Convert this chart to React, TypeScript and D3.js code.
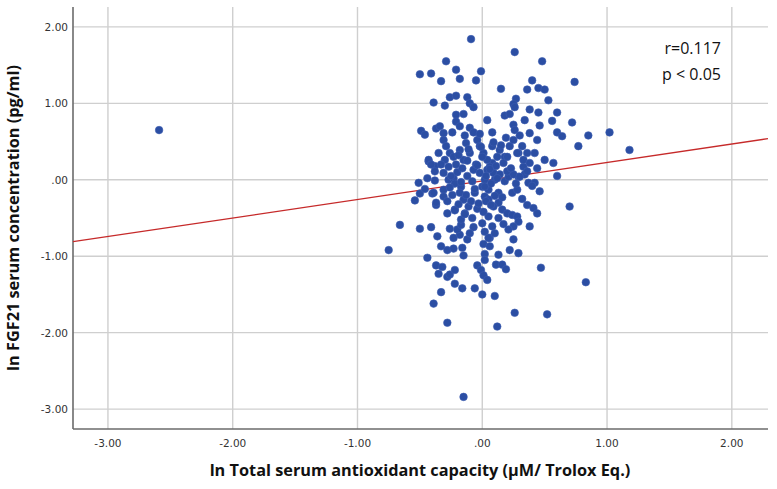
import React from "react";
import * as d3 from "d3";

const xTicks = [-3, -2, -1, 0, 1, 2];
const yTicks = [-3, -2, -1, 0, 1, 2];
const xDomain = [-3.28, 2.29];
const yDomain = [-3.26, 2.26];
const fitSlope = 0.242;
const fitIntercept = -0.016;
const annotation = ["r=0.117", "p < 0.05"];
const xTitle = "ln Total serum antioxidant capacity (\u00b5M/ Trolox Eq.)";
const yTitle = "ln FGF21 serum concentration (pg/ml)";

// ln TAC values
const tac = [
  -2.59, -0.09, 0.26, 0.48, -0.29, -0.5, -0.41, -0.21, -0.01, -0.33, -0.18, -0.05, 0.4, 0.74, 0.15, 0.36, 0.45, 0.5,
  -0.26, -0.21, -0.39, -0.3, -0.12, -0.1, -0.07, 0.27, 0.25, 0.26, 0.53, 0.38, 0.45, 0.6, 0.18, 0.22, -0.21, -0.15,
  0.04, 0.34, 0.56, 0.72, -0.49, -0.46, -0.37, -0.21, -0.18, -0.1, -0.07, 0.25, 0.26, 0.38, 0.46, 0.6, 0.64, 0.85,
  1.02, 0.77, 1.18, 0.44,
  0.6, 0.7, -0.66, -0.75, -0.5, -0.41, -0.54, -0.5, -0.51, -0.38, -0.4, -0.37, -0.28, -0.26, -0.36, -0.33, -0.28, -0.23,
  -0.44, -0.37, -0.32, -0.35, -0.28, -0.26, -0.22, -0.22, -0.33, -0.16, -0.39, -0.28, -0.06, 0.0, 0.1, -0.04, -0.01,
  0.01, 0.04, 0.02, 0.13, 0.11, 0.16, 0.19, 0.22, 0.29, 0.25, 0.06, 0.01, -0.16, -0.15, -0.12, -0.18, -0.2, -0.17,
  0.38, 0.47, 0.83, 0.26, 0.52, 0.12, -0.15,
  -0.43, -0.38, -0.39, -0.31, -0.31, -0.37, -0.27, -0.23, -0.17, -0.18, -0.15, -0.11, -0.22, -0.14, -0.17, -0.23,
  -0.08, 0.0, 0.02, 0.0, 0.02, 0.02, -0.06,
  0.08, 0.18, 0.29, 0.33, 0.42, 0.44, 0.5, 0.57, 0.02, 0.1, 0.18, 0.21, 0.29, 0.34, 0.37, 0.42, 0.46, 0.05, 0.13,
  0.24, 0.28, 0.05, 0.13, 0.16, 0.2, 0.24, 0.28, 0.29, 0.25, 0.21, 0.36, 0.41, 0.44, 0.05, 0.08, 0.1, 0.05, 0.06,
  -0.31, -0.29, -0.26, -0.3, -0.23, -0.18, -0.13, -0.1, -0.15, -0.21, -0.27, -0.31, -0.04, -0.02, 0.01, 0.04, 0.06,
  0.08, 0.12, 0.14, 0.17, 0.2, 0.22, 0.25, 0.28, 0.32, 0.33, 0.36, -0.43, -0.41, -0.38, -0.07, -0.02, 0.04, 0.09,
  0.14, 0.2, 0.25, 0.3, 0.36, -0.31, -0.34,
  -0.25, -0.2, -0.16, -0.12, -0.08, -0.05, 0.0, 0.03, 0.07, 0.11, 0.15, 0.19, -0.02, -0.14, -0.24, -0.35, -0.33,
  -0.22, -0.13, -0.09, -0.04, 0.01, 0.09, 0.13, 0.17, -0.28, -0.24, -0.19, -0.07, -0.1, 0.03, 0.32, 0.27, 0.23,
  0.38, 0.3, 0.08, -0.44, -0.46, 0.4,
  -0.19, -0.12, -0.04, 0.06, 0.12, -0.26, -0.17, -0.06, 0.02, 0.1, -0.22, -0.14, -0.03, 0.07, 0.16, -0.11, -0.01, 0.09,
];

// ln FGF21 values
const fgf21 = [
  0.65, 1.84, 1.67, 1.55, 1.55, 1.38, 1.39, 1.44, 1.42, 1.29, 1.32, 1.3, 1.3, 1.28, 1.19, 1.18, 1.2, 1.18,
  1.08, 1.1, 1.01, 0.97, 1.08, 1.0, 0.95, 1.06, 0.99, 0.95, 1.04, 0.92, 0.88, 0.88, 0.84, 0.86, 0.85, 0.86,
  0.78, 0.78, 0.77, 0.75, 0.64, 0.59, 0.67, 0.76, 0.7, 0.68, 0.62, 0.72, 0.65, 0.61, 0.71, 0.62, 0.57, 0.58,
  0.62, 0.44, 0.39, 0.52,
  0.05, -0.35, -0.59, -0.92, -0.64, -0.62, -0.27, -0.18, -0.04, -0.01, -0.18, -0.33, -0.44, -0.64, -0.74, -0.87, -0.92, -0.9,
  -1.02, -1.12, -1.14, -1.23, -1.27, -1.24, -1.18, -1.36, -1.47, -1.42, -1.62, -1.87, -1.42, -1.5, -1.52, -1.12, -1.18,
  -1.25, -1.31, -0.97, -0.98, -1.11, -1.11, -1.17, -0.92, -0.96, -0.78, -0.76, -0.84, -0.89, -0.99, -0.78, -0.72, -0.65, -0.59,
  -0.61, -1.15, -1.34, -1.74, -1.76, -1.92, -2.84,
  0.24, 0.18, -0.17, -0.13, -0.22, -0.3, 0.0, 0.02, -0.09, -0.17, -0.26, -0.35, -0.39, -0.44, -0.52, -0.76,
  -0.5, -0.09, -0.22, -0.57, -0.68, -1.05, -0.17,
  0.22, 0.3, 0.35, 0.17, 0.35, 0.15, 0.26, 0.22, 0.0, 0.0, -0.02, 0.04, 0.04, 0.07, -0.04, -0.04, -0.15, -0.13, -0.17,
  -0.17, -0.13, -0.26, -0.3, -0.39, -0.44, -0.46, -0.48, -0.55, -0.61, -0.65, -0.33, -0.37, -0.44, -0.48, -0.61, -0.7, -0.76, -0.87,
  0.52, 0.44, 0.35, 0.26, 0.3, 0.39, 0.48, 0.35, 0.26, 0.2, 0.17, 0.09, 0.52, 0.44, 0.35, 0.26, 0.17,
  0.44, 0.3, 0.39, 0.22, 0.3, 0.44, 0.52, 0.35, 0.44, 0.26, 0.35, 0.26, 0.2, 0.11, 0.13, 0.09, 0.13, 0.09,
  0.07, 0.11, 0.07, 0.04, 0.11, 0.61, 0.7,
  0.05, 0.1, 0.15, 0.05, -0.02, 0.2, 0.3, 0.05, -0.05, 0.18, 0.45, 0.55, 0.6, 0.58, 0.62, 0.35, 0.2,
  -0.05, -0.2, -0.28, -0.38, -0.42, -0.35, -0.5, -0.58, -0.28, -0.2, -0.32, -0.62, -0.7, -0.28, -0.25, -0.05, 0.15,
  0.22, 0.58, 0.62, 0.02, -0.12, -0.08,
  0.32, 0.25, 0.19, 0.14, 0.02, -0.1, -0.03, -0.12, -0.09, -0.21, -0.4, -0.45, -0.31, -0.33, -0.23, 0.4, 0.43, 0.49,
];

const W = 777;
const H = 489;
const left = 73;
const right = 768;
const top = 7;
const bottom = 429;

const fmt = (v: number) => (v === 0 ? ".00" : d3.format(".2f")(v).replace("\u2212", "-"));

export default function App() {
  const x = d3.scaleLinear().domain(xDomain).range([left, right]);
  const y = d3.scaleLinear().domain(yDomain).range([bottom, top]);
  const n = Math.min(tac.length, fgf21.length);
  const pts = d3.range(n).map((i) => [tac[i], fgf21[i]]);
  const line = d3
    .line<number>()
    .x((d) => x(d))
    .y((d) => y(fitIntercept + fitSlope * d));
  const gridColor = "#cfcfcf";
  const axisColor = "#6b6b6b";
  return (
    <div style={{ position: "fixed", left: 0, top: 0, width: W, height: H, background: "#fff" }}>
      <svg width={W} height={H} style={{ display: "block" }}>
        <rect x={0} y={0} width={W} height={H} fill="#fff" />
        {xTicks.map((t) => (
          <line key={"gx" + t} x1={x(t)} x2={x(t)} y1={top} y2={bottom} stroke={gridColor} strokeWidth={1.4} />
        ))}
        {yTicks.map((t) => (
          <line key={"gy" + t} x1={left} x2={right} y1={y(t)} y2={y(t)} stroke={gridColor} strokeWidth={1.4} />
        ))}
        <line x1={left} x2={left} y1={top} y2={bottom} stroke={axisColor} strokeWidth={1.6} />
        <line x1={left} x2={right} y1={bottom} y2={bottom} stroke={axisColor} strokeWidth={1.6} />
        {xTicks.map((t) => (
          <text
            key={"tx" + t}
            x={x(t)}
            y={bottom + 18}
            textAnchor="middle"
            fontFamily="DejaVu Sans"
            fontSize={10.5}
            fill="#333"
          >
            {fmt(t)}
          </text>
        ))}
        {yTicks.map((t) => (
          <text
            key={"ty" + t}
            x={left - 5}
            y={y(t) + 4}
            textAnchor="end"
            fontFamily="DejaVu Sans"
            fontSize={10.5}
            fill="#333"
          >
            {fmt(t)}
          </text>
        ))}
        <path d={line(xDomain) || ""} fill="none" stroke="#c62a2a" strokeWidth={1.3} />
        {pts.map((p, i) => (
          <circle key={i} cx={x(p[0])} cy={y(p[1])} r={3.8} fill="#2b4ea3" stroke="#3c5db0" strokeWidth={0.6} />
        ))}
        {annotation.map((s, i) => (
          <text key={s} x={721} y={54 + i * 26} textAnchor="end" fontFamily="Open Sans" fontSize={16} fill="#111">
            {s}
          </text>
        ))}
        <text
          x={420}
          y={476}
          textAnchor="middle"
          fontFamily="Open Sans"
          fontWeight="bold"
          fontSize={16.3}
          fill="#111"
        >
          {xTitle}
        </text>
        <text
          transform={`translate(19,${(top + bottom) / 2}) rotate(-90)`}
          textAnchor="middle"
          fontFamily="Open Sans"
          fontWeight="bold"
          fontSize={16.3}
          fill="#111"
        >
          {yTitle}
        </text>
      </svg>
    </div>
  );
}
